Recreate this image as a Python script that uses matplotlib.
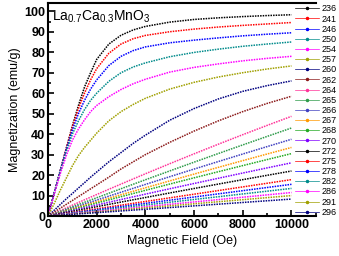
import matplotlib
matplotlib.use("Agg")
import matplotlib.pyplot as plt
from matplotlib.lines import Line2D
from matplotlib.ticker import MultipleLocator

plt.rcParams['font.family'] = ['Liberation Sans', 'DejaVu Sans']
plt.rcParams['mathtext.fontset'] = 'custom'
plt.rcParams['mathtext.rm'] = 'Liberation Sans'
plt.rcParams['mathtext.default'] = 'regular'

# field values (Oe)
field = [0, 250, 500, 750, 1000, 1250, 1500, 1750, 2000, 2500,
         3000, 3500, 4000, 5000, 6000, 7000, 8000, 9000, 10000]

temps = ['236', '241', '246', '250', '254', '257', '260', '262', '264', '265',
         '266', '267', '268', '270', '272', '275', '278', '282', '286', '291', '296']

colors = ['#000000', '#ff0000', '#0000ff', '#008b8b', '#ff00ff', '#a0a000', '#000080',
          '#8b1a1a', '#ff3399', '#2e9b4a', '#4040c0', '#ff9900', '#22aa22', '#8000ff',
          '#000000', '#ff0000', '#0000ff', '#008b8b', '#ff00ff', '#a0a000', '#000080']

m236 = [0, 11, 22, 33, 44, 54, 63, 70, 76.5, 84, 88.3, 90.9, 92.6, 94.7, 96, 96.8, 97.4, 97.9, 98.3]
m241 = [0, 11, 22, 33, 43.5, 52.5, 60, 66.5, 72, 79.5, 84, 86.6, 88.2, 90, 91.3, 92.3, 93.1, 93.8, 94.5]
m246 = [0, 11, 22, 32.5, 42, 50, 56.5, 62, 66.5, 73.5, 78, 80.8, 82.6, 84.6, 85.9, 87, 88, 88.8, 89.5]
m250 = [0, 11, 21.5, 31.5, 40, 46.5, 52, 56.5, 60, 65.8, 70, 72.8, 74.8, 77.8, 79.9, 81.5, 82.9, 84, 85]
m254 = [0, 10.5, 20.5, 29.5, 37, 42.5, 47, 51, 54, 58.3, 61.8, 64.6, 66.8, 70.3, 72.6, 74.3, 75.8, 77, 78]
m257 = [0, 6, 12.5, 18.5, 24.5, 29.5, 33.5, 37, 40.5, 46.5, 51, 54.5, 57.5, 62, 65.3, 67.9, 70, 71.8, 73.3]
m260 = [0, 2.8, 5.6, 8.4, 11, 13.7, 16.3, 19, 21.5, 26.5, 31, 35.5, 39.5, 46.8, 52.5, 57.2, 60.9, 63.7, 66]
m262 = [0, 1.9, 3.8, 5.7, 7.6, 9.5, 11.4, 13.3, 15.2, 19, 23, 26.5, 30, 36, 41.5, 46.5, 51, 55, 58.5]
m264 = [0, 1.34, 2.67, 3.99, 5.31, 6.62, 7.93, 9.23, 10.52, 13.09, 15.63, 18.15, 20.65, 25.57, 30.39, 35.11, 39.74, 44.27, 48.7]
m265 = [0, 1.13, 2.25, 3.37, 4.49, 5.61, 6.72, 7.84, 8.94, 11.15, 13.35, 15.54, 17.72, 22.04, 26.32, 30.55, 34.74, 38.89, 43]
m266 = [0, 0.98, 1.96, 2.94, 3.92, 4.89, 5.86, 6.83, 7.8, 9.73, 11.64, 13.55, 15.45, 19.22, 22.95, 26.64, 30.3, 33.92, 37.5]
m267 = [0, 0.88, 1.75, 2.63, 3.5, 4.37, 5.24, 6.1, 6.97, 8.69, 10.4, 12.11, 13.8, 17.17, 20.5, 23.8, 27.07, 30.3, 33.5]
m268 = [0, 0.8, 1.6, 2.39, 3.19, 3.98, 4.77, 5.56, 6.34, 7.91, 9.47, 11.02, 12.57, 15.63, 18.67, 21.67, 24.64, 27.59, 30.5]
m270 = [0, 0.68, 1.36, 2.04, 2.72, 3.39, 4.07, 4.74, 5.41, 6.74, 8.07, 9.4, 10.71, 13.33, 15.91, 18.47, 21.01, 23.52, 26]
m272 = [0, 0.58, 1.15, 1.73, 2.3, 2.87, 3.44, 4.01, 4.58, 5.71, 6.83, 7.95, 9.06, 11.28, 13.46, 15.63, 17.78, 19.9, 22]
m275 = [0, 0.45, 0.89, 1.34, 1.78, 2.23, 2.67, 3.12, 3.56, 4.45, 5.34, 6.23, 7.12, 8.9, 10.68, 12.46, 14.24, 16.02, 17.8]
m278 = [0, 0.39, 0.78, 1.16, 1.55, 1.94, 2.33, 2.71, 3.1, 3.88, 4.65, 5.43, 6.2, 7.75, 9.3, 10.85, 12.4, 13.95, 15.5]
m282 = [0, 0.34, 0.68, 1.01, 1.35, 1.69, 2.03, 2.36, 2.7, 3.38, 4.05, 4.73, 5.4, 6.75, 8.1, 9.45, 10.8, 12.15, 13.5]
m286 = [0, 0.29, 0.58, 0.86, 1.15, 1.44, 1.73, 2.01, 2.3, 2.88, 3.45, 4.03, 4.6, 5.75, 6.9, 8.05, 9.2, 10.35, 11.5]
m291 = [0, 0.25, 0.5, 0.75, 1, 1.25, 1.5, 1.75, 2, 2.5, 3, 3.5, 4, 5, 6, 7, 8, 9, 10]
m296 = [0, 0.21, 0.42, 0.62, 0.83, 1.04, 1.25, 1.45, 1.66, 2.08, 2.49, 2.91, 3.32, 4.15, 4.98, 5.81, 6.64, 7.47, 8.3]

curves = [m236, m241, m246, m250, m254, m257, m260, m262, m264, m265, m266,
          m267, m268, m270, m272, m275, m278, m282, m286, m291, m296]

fig = plt.figure(figsize=(3.39, 2.56), dpi=100)
ax = fig.add_axes([0.1416, 0.156, 0.79, 0.832])

handles = []
for t, m, c in zip(temps, curves, colors):
    ax.plot(field, m, color=c, lw=1.1, ls=(0, (1, 0.7)))
    handles.append(Line2D([], [], color=c, lw=0.5, marker='.', ms=3))

ax.set_xlim(0, 11000)
ax.set_ylim(0, 104)
ax.xaxis.set_major_locator(MultipleLocator(2000))
ax.xaxis.set_minor_locator(MultipleLocator(1000))
ax.yaxis.set_major_locator(MultipleLocator(10))
ax.yaxis.set_minor_locator(MultipleLocator(5))
ax.tick_params(which='both', direction='in', width=1.2, top=False, right=False)
ax.tick_params(which='major', length=4, labelsize=9, pad=2)
ax.tick_params(which='minor', length=2)
for lab in ax.get_xticklabels() + ax.get_yticklabels():
    lab.set_fontweight('bold')
for s in ax.spines.values():
    s.set_linewidth(1.5)
ax.spines['right'].set_visible(False)

ax.set_xlabel('Magnetic Field (Oe)', fontsize=9, labelpad=3)
ax.set_ylabel('Magnetization (emu/g)', fontsize=9, labelpad=2)

ax.text(0.015, 0.975, r'La$_{0.7}$Ca$_{0.3}$MnO$_3$', transform=ax.transAxes,
        fontsize=10, va='top', ha='left')

fig.legend(handles, temps, loc='upper right', bbox_to_anchor=(1.0, 0.99),
           frameon=False, fontsize=6.5, handlelength=2.6, handletextpad=0.35,
           labelspacing=0.13, borderpad=0.1, borderaxespad=0.1)

fig.savefig('out.png', dpi=100)
